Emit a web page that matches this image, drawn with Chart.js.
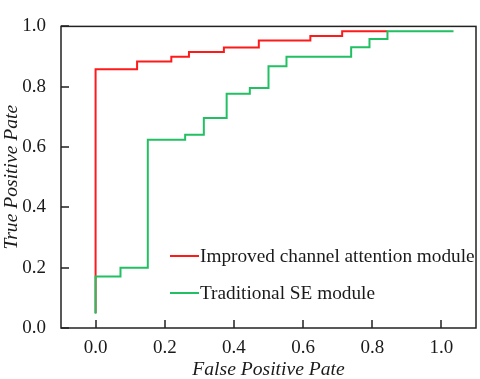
<!DOCTYPE html>
<html>
<head>
<meta charset="utf-8">
<script src="https://cdn.jsdelivr.net/npm/chart.js@4/dist/chart.umd.min.js"></script>
<style>
  html, body { margin: 0; padding: 0; background: #fff; }
  #wrap { width: 480px; height: 379px; }
</style>
</head>
<body>
<div id="wrap"><canvas id="roc"></canvas></div>
<script>
// ROC curve corner points
const redFpr = [0, 0, 0.12, 0.12, 0.219, 0.219, 0.27, 0.27, 0.371, 0.371, 0.472, 0.472, 0.621, 0.621, 0.713, 0.713, 0.844];
const redTpr = [0.05, 0.858, 0.858, 0.884, 0.884, 0.899, 0.899, 0.915, 0.915, 0.93, 0.93, 0.953, 0.953, 0.968, 0.968, 0.984, 0.984];

const greenFpr = [0, 0, 0.072, 0.072, 0.151, 0.151, 0.259, 0.259, 0.313, 0.313, 0.379, 0.379, 0.446, 0.446, 0.5, 0.5, 0.552, 0.552, 0.739, 0.739, 0.792, 0.792, 0.844, 0.844, 1.035];
const greenTpr = [0.047, 0.171, 0.171, 0.2, 0.2, 0.624, 0.624, 0.641, 0.641, 0.696, 0.696, 0.777, 0.777, 0.796, 0.796, 0.868, 0.868, 0.899, 0.899, 0.931, 0.931, 0.958, 0.958, 0.984, 0.984];

const xTicks = [0, 0.2, 0.4, 0.6, 0.8, 1.0];
const yTicks = [0, 0.2, 0.4, 0.6, 0.8, 1.0];

const seriesNames = ['Improved channel attention module', 'Traditional SE module'];
const seriesColors = ['#ff1a1a', '#22c063'];

const serif = '"Liberation Serif", "Times New Roman", serif';

function toPoints(xs, ys) {
    return xs.map((x, i) => ({ x: x, y: ys[i] }));
}

// frame round the plot plus inward tick marks
const frame = {
    id: 'frame',
    afterDatasetsDraw(chart) {
        const { ctx, chartArea: a, scales } = chart;
        ctx.save();
        ctx.strokeStyle = '#222';
        ctx.lineWidth = 1.5;
        ctx.strokeRect(a.left, a.top, a.right - a.left, a.bottom - a.top);
        ctx.beginPath();
        xTicks.forEach(t => {
            const px = Math.round(scales.x.getPixelForValue(t));
            ctx.moveTo(px, a.bottom);
            ctx.lineTo(px, a.bottom - 8);
        });
        yTicks.forEach(t => {
            const py = Math.round(scales.y.getPixelForValue(t));
            ctx.moveTo(a.left, py);
            ctx.lineTo(a.left + 8, py);
        });
        ctx.stroke();
        ctx.restore();
    }
};

// legend drawn inside the plot, lower right
const innerLegend = {
    id: 'innerLegend',
    afterDraw(chart) {
        const { ctx } = chart;
        ctx.save();
        ctx.font = '19.3px ' + serif;
        ctx.textBaseline = 'middle';
        ctx.fillStyle = '#1a1a1a';
        seriesNames.forEach((name, i) => {
            const y = 256 + i * 37;
            ctx.strokeStyle = seriesColors[i];
            ctx.lineWidth = 2;
            ctx.beginPath();
            ctx.moveTo(170, y);
            ctx.lineTo(199, y);
            ctx.stroke();
            ctx.fillText(name, 200, y + 1);
        });
        ctx.restore();
    }
};

new Chart(document.getElementById('roc'), {
    type: 'line',
    data: {
        datasets: [
            {
                label: seriesNames[0],
                data: toPoints(redFpr, redTpr),
                borderColor: seriesColors[0],
                borderWidth: 2,
                pointRadius: 0,
                tension: 0,
                order: 1
            },
            {
                label: seriesNames[1],
                data: toPoints(greenFpr, greenTpr),
                borderColor: seriesColors[1],
                borderWidth: 2,
                pointRadius: 0,
                tension: 0,
                order: 0
            }
        ]
    },
    options: {
        responsive: true,
        maintainAspectRatio: false,
        animation: false,
        layout: { padding: { top: 9, right: 4, left: 0, bottom: 0 } },
        plugins: {
            legend: { display: false },
            tooltip: { enabled: false }
        },
        scales: {
            x: {
                type: 'linear',
                min: -0.1,
                max: 1.1,
                afterBuildTicks: s => { s.ticks = xTicks.map(v => ({ value: v })); },
                afterFit: s => { s.height = 51; },
                grid: { display: false, drawTicks: false },
                border: { display: false },
                ticks: {
                    padding: 9,
                    color: '#1a1a1a',
                    font: { family: serif, size: 19 },
                    callback: v => v.toFixed(1)
                },
                title: {
                    display: true,
                    text: 'False Positive Pate',
                    color: '#1a1a1a',
                    font: { family: serif, size: 19.6, style: 'italic', lineHeight: 1 },
                    padding: { top: 0, bottom: -1 }
                }
            },
            y: {
                type: 'linear',
                min: 0,
                max: 1,
                afterBuildTicks: s => { s.ticks = yTicks.map(v => ({ value: v })); },
                afterFit: s => { s.width = 61; },
                grid: { display: false, drawTicks: false },
                border: { display: false },
                ticks: {
                    padding: 15,
                    color: '#1a1a1a',
                    font: { family: serif, size: 19 },
                    callback: v => v.toFixed(1)
                },
                title: {
                    display: true,
                    text: 'True Positive Pate',
                    color: '#1a1a1a',
                    font: { family: serif, size: 19.6, style: 'italic', lineHeight: 1 },
                    padding: { top: 2, bottom: 0 }
                }
            }
        }
    },
    plugins: [frame, innerLegend]
});
</script>
</body>
</html>
